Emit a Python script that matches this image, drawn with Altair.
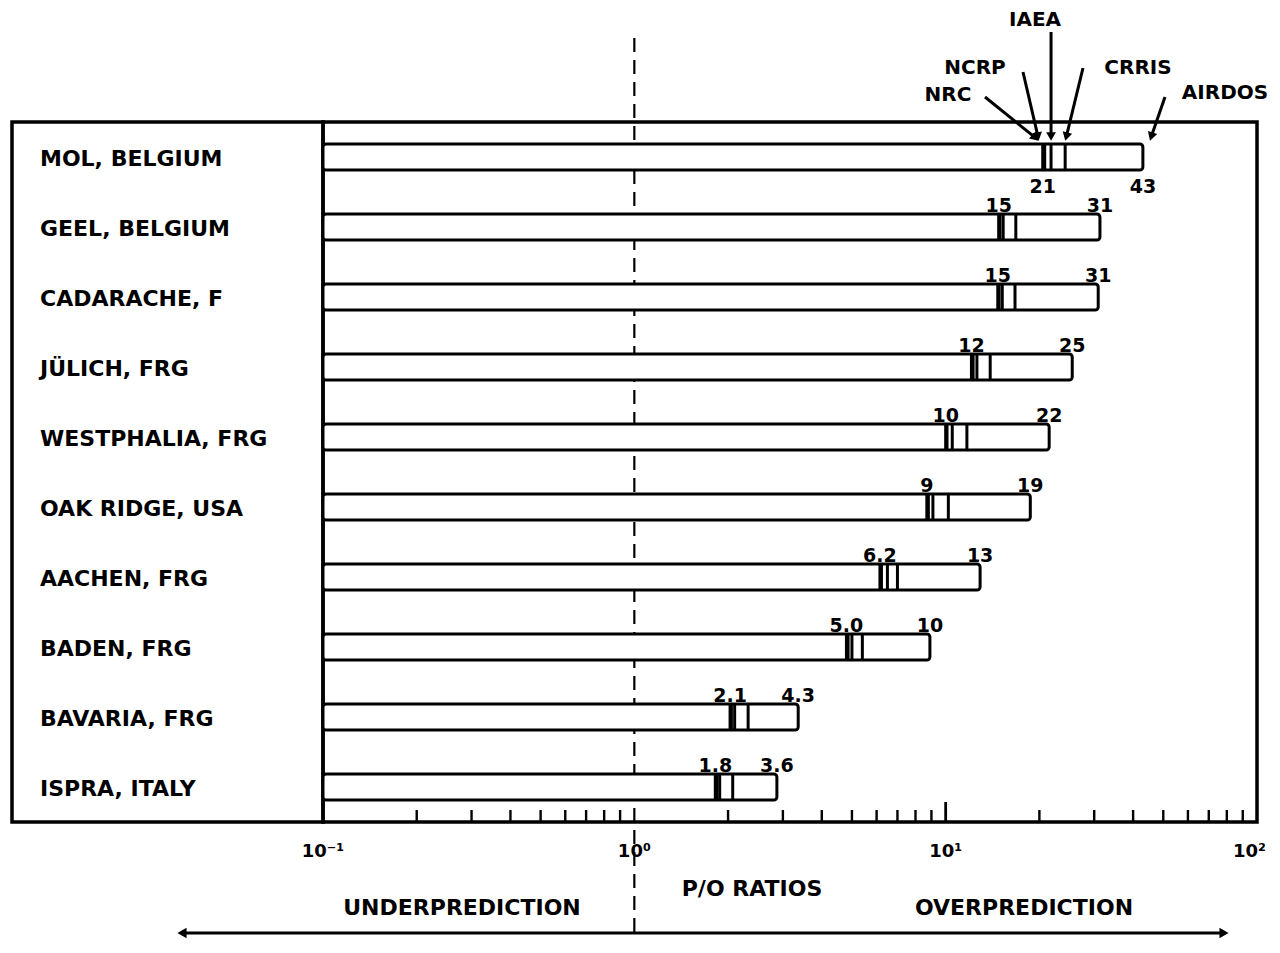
import math
import altair as alt
import pandas as pd

# ---------------- data ----------------
sites = ["MOL, BELGIUM", "GEEL, BELGIUM", "CADARACHE, F", "JÜLICH, FRG",
         "WESTPHALIA, FRG", "OAK RIDGE, USA", "AACHEN, FRG", "BADEN, FRG",
         "BAVARIA, FRG", "ISPRA, ITALY"]
nrc = [20.5, 14.8, 14.7, 12.1, 10.0, 8.7, 6.15, 4.8, 2.03, 1.82]
ncrp = [20.8, 14.95, 14.85, 12.25, 10.1, 8.8, 6.22, 4.86, 2.05, 1.84]
iaea = [21.8, 15.3, 15.2, 12.6, 10.5, 9.1, 6.5, 5.0, 2.1, 1.88]
crris = [24.2, 16.8, 16.7, 13.9, 11.7, 10.2, 7.0, 5.4, 2.32, 2.07]
airdos = [43.0, 31.3, 30.9, 25.5, 21.5, 18.7, 12.9, 8.9, 3.36, 2.87]
low_labels = ["21", "15", "15", "12", "10", "9", "6.2", "5.0", "2.1", "1.8"]
high_labels = ["43", "31", "31", "25", "22", "19", "13", "10", "4.3", "3.6"]
labels_below = [True, False, False, False, False, False, False, False, False, False]

axis_min = 0.1
axis_max = 100
minor_ticks = [0.2, 0.3, 0.4, 0.5, 0.6, 0.7, 0.8, 0.9,
               2, 3, 4, 5, 6, 7, 8, 9,
               20, 30, 40, 50, 60, 70, 80, 90]
major_ticks = [10]
decade_values = [0.1, 1, 10, 100]
decade_labels = ["10⁻¹", "10⁰", "10¹", "10²"]
models = ["NRC", "NCRP", "IAEA", "CRRIS"]
model_values = {"NRC": nrc, "NCRP": ncrp, "IAEA": iaea, "CRRIS": crris}

bars_df = pd.DataFrame({
    "site": sites,
    "start": [axis_min] * len(sites),
    "airdos": airdos,
    "low": nrc,
    "low_label": low_labels,
    "high_label": high_labels,
    "below": labels_below,
})
lines_df = pd.DataFrame([
    {"site": s, "model": m, "value": model_values[m][i]}
    for m in models for i, s in enumerate(sites)
] + [{"site": s, "model": "AIRDOS", "value": airdos[i]} for i, s in enumerate(sites)])
model_lines_df = lines_df[lines_df["model"] != "AIRDOS"]

dummy = pd.DataFrame({"d": [0]})
minor_df = pd.DataFrame({"v": minor_ticks})
major_df = pd.DataFrame({"v": major_ticks})
one_df = pd.DataFrame({"v": [1]})
decades_df = pd.DataFrame({"v": decade_values, "label": decade_labels})

# ---------------- layout / style ----------------
W, H = 934, 700
FONT = "DejaVu Sans"
INK = "#000000"

x_scale = alt.Scale(type="log", domain=[axis_min, axis_max], nice=False)
hidden_axis = alt.Axis(labels=False, ticks=False, domain=False, grid=False, title=None)


def X(field):
    return alt.X(field, scale=x_scale, axis=hidden_axis)


y_enc = alt.Y("site:N", sort=sites,
              scale=alt.Scale(paddingInner=0.629, paddingOuter=0.3145), axis=None)


def txt(**kw):
    base = dict(font=FONT, fontWeight="bold", color=INK)
    base.update(kw)
    return base


# left label panel frame
panel = alt.Chart(dummy).mark_rect(fillOpacity=0, stroke=INK, strokeWidth=3.5).encode(
    x=alt.value(-311), x2=alt.value(0), y=alt.value(0), y2=alt.value(H))

row_labels = alt.Chart(bars_df).mark_text(**txt(align="left", baseline="middle",
                                                fontSize=22, dy=2)).encode(
    x=alt.value(-283), y=y_enc, text="site:N")

bars = alt.Chart(bars_df).mark_bar(fill="white", stroke=INK, strokeWidth=3,
                                   cornerRadiusEnd=3).encode(
    x=X("start:Q"), x2="airdos:Q", y=y_enc)

model_ticks = alt.Chart(model_lines_df).mark_tick(color=INK, thickness=3, size=25,
                                                  opacity=1).encode(
    x=X("value:Q"), y=y_enc)

above = alt.datum.below == False
below = alt.datum.below == True
NUM = 19
low_above = alt.Chart(bars_df).transform_filter(above).mark_text(
    **txt(fontSize=NUM, baseline="alphabetic", dy=-15)).encode(
    x=X("low:Q"), y=y_enc, text="low_label:N")
high_above = alt.Chart(bars_df).transform_filter(above).mark_text(
    **txt(fontSize=NUM, baseline="alphabetic", dy=-15)).encode(
    x=X("airdos:Q"), y=y_enc, text="high_label:N")
low_below = alt.Chart(bars_df).transform_filter(below).mark_text(
    **txt(fontSize=NUM, baseline="alphabetic", dy=36)).encode(
    x=X("low:Q"), y=y_enc, text="low_label:N")
high_below = alt.Chart(bars_df).transform_filter(below).mark_text(
    **txt(fontSize=NUM, baseline="alphabetic", dy=36)).encode(
    x=X("airdos:Q"), y=y_enc, text="high_label:N")

dashed = alt.Chart(one_df).mark_rule(color=INK, strokeWidth=2.2, strokeDash=[14, 8]).encode(
    x=X("v:Q"), y=alt.value(-84), y2=alt.value(820))

minor_rules = alt.Chart(minor_df).mark_rule(color=INK, strokeWidth=2.4).encode(
    x=X("v:Q"), y=alt.value(H), y2=alt.value(H - 12))
major_rules = alt.Chart(major_df).mark_rule(color=INK, strokeWidth=2.8).encode(
    x=X("v:Q"), y=alt.value(H), y2=alt.value(H - 20))

# decade tick labels (last one pulled in so it stays on the page)
decade_text = alt.Chart(decades_df).transform_filter(alt.datum.v < 50).mark_text(
    **txt(fontSize=18, baseline="middle")).encode(
    x=X("v:Q"), y=alt.value(H + 30), text="label:N")
decade_last = alt.Chart(decades_df).transform_filter(alt.datum.v > 50).mark_text(
    **txt(fontSize=18, baseline="middle", align="right", dx=9)).encode(
    x=X("v:Q"), y=alt.value(H + 30), text="label:N")

# bottom titles & double arrow
t_ratio = alt.Chart(dummy).mark_text(**txt(fontSize=22, baseline="middle")).encode(
    x=alt.value(429), y=alt.value(767), text=alt.value("P/O RATIOS"))
t_under = alt.Chart(dummy).mark_text(**txt(fontSize=22, baseline="middle")).encode(
    x=alt.value(139), y=alt.value(786), text=alt.value("UNDERPREDICTION"))
t_over = alt.Chart(dummy).mark_text(**txt(fontSize=22, baseline="middle")).encode(
    x=alt.value(701), y=alt.value(786), text=alt.value("OVERPREDICTION"))
arrow_line = alt.Chart(dummy).mark_rule(color=INK, strokeWidth=3).encode(
    x=alt.value(-140), x2=alt.value(900), y=alt.value(811), y2=alt.value(811))
arrow_l = alt.Chart(dummy).mark_point(shape="triangle-left", filled=True, color=INK,
                                      size=110, opacity=1).encode(
    x=alt.value(-141), y=alt.value(811))
arrow_r = alt.Chart(dummy).mark_point(shape="triangle-right", filled=True, color=INK,
                                      size=110, opacity=1).encode(
    x=alt.value(901), y=alt.value(811))

# model annotations above the first bar
# (name, label x, label y, tail x, tail y, arrow angle, head x offset)
annots = [
    ("IAEA", 712, -102, None, -90, 180, 0),
    ("NCRP", 652, -54, 700, -50, 170, -6),
    ("NRC", 625, -27, 662, -25, 133, -4),
    ("CRRIS", 815, -54, 760, -54, 195, 0),
    ("AIRDOS", 902, -29, 842, -25, 198, 7),
]
head_y = 19
annot_layers = []
for name, lx, ly, tx, ty, ang, hx in annots:
    src = alt.Chart(lines_df).transform_filter(
        (alt.datum.site == sites[0]) & (alt.datum.model == name))
    a = math.radians(ang)
    dxu, dyu = math.sin(a), -math.cos(a)
    cx, cy = hx - 6 * dxu, -6 * dyu
    if tx is None:
        line = src.mark_rule(color=INK, strokeWidth=3, xOffset=hx).encode(
            x=X("value:Q"), y=alt.value(ty), y2=alt.value(head_y - 4))
    else:
        line = src.mark_rule(color=INK, strokeWidth=3, xOffset=cx).encode(
            x=X("value:Q"), y=alt.value(head_y + cy),
            x2=alt.value(tx), y2=alt.value(ty))
    head = src.mark_point(shape="triangle", filled=True, color=INK, size=95,
                          opacity=1, angle=ang, xOffset=cx).encode(
        x=X("value:Q"), y=alt.value(head_y + cy))
    label = alt.Chart(dummy).mark_text(**txt(fontSize=20, baseline="middle")).encode(
        x=alt.value(lx), y=alt.value(ly), text=alt.value(name))
    annot_layers += [line, head, label]

chart = alt.layer(
    panel, dashed, bars, model_ticks, minor_rules, major_rules,
    row_labels, low_above, high_above, low_below, high_below,
    decade_text, decade_last,
    t_ratio, t_under, t_over, arrow_line, arrow_l, arrow_r,
    *annot_layers,
).properties(
    width=W, height=H,
    autosize=alt.AutoSizeParams(type="none"),
    padding={"left": 315, "top": 114, "right": 15, "bottom": 118},
    background="white",
).configure_view(
    stroke=INK, strokeWidth=3.5
)

chart.save("out.html", embed_options={"renderer": "svg", "actions": False})
